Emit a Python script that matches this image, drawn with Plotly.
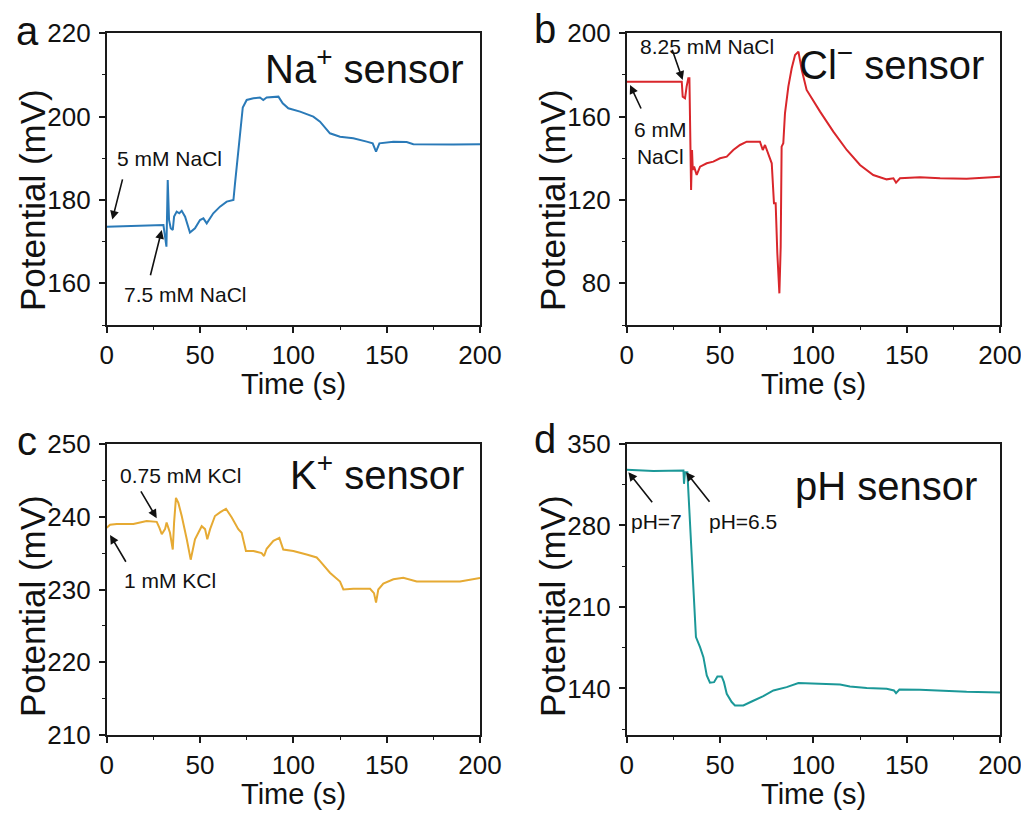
import plotly.graph_objects as go

# The page body has an 8 px margin, so the figure is drawn 8 px in from the corner.
OFF = 8
W, H = 1029 - OFF, 814 - OFF
FONT = "Liberation Sans, Arial, sans-serif"

# ---------------- data ----------------
na_t = [0, 14.3, 30.4, 31.25, 32.0, 32.7, 33.4, 34.3, 35.4, 36.1, 37.5, 38.9, 40.2, 42.0, 44.6,
        47.3, 50.0, 51.8, 53.6, 57.1, 60.7, 64.3, 67.9, 68.75, 70.0, 71.4, 72.9, 75.0, 78.6,
        82.1, 83.9, 85.7, 92.0, 94.3, 97.3, 103.6, 110.7, 114.3, 119.6, 125.0, 132.1, 139.3,
        142.5, 144.3, 146.1, 153.6, 160.7, 164.3, 175, 185.7, 200]
na_v = [173.6, 173.8, 174.0, 171.2, 168.8, 184.8, 175.2, 173.2, 172.8, 176.0, 177.2, 176.8, 177.4, 176.0, 172.2,
        173.2, 175.2, 175.6, 174.4, 176.8, 178.4, 179.6, 180.0, 184.0, 189.6, 196.8, 202.2, 204.0, 204.4,
        204.6, 204.0, 204.6, 204.8, 203.2, 202.0, 201.2, 200.0, 198.8, 196.0, 195.2, 194.8, 194.0,
        193.6, 191.6, 193.6, 194.0, 193.9, 193.4, 193.3, 193.3, 193.4]

cl_t = [0, 29.5, 30.0, 31.25, 32.1, 33.0, 33.6, 33.9, 34.5, 35.0, 35.4, 36.1, 37.5, 39.3, 42.9,
        46.4, 50.0, 53.6, 57.1, 60.7, 64.3, 71.4, 72.9, 74.1, 75.9, 77.7, 78.9, 79.8, 80.7, 81.8,
        82.5, 83.0, 83.9, 84.8, 86.6, 88.4, 90.2, 92.0, 93.8, 96.4, 103.6, 110.7, 117.9, 125.0,
        132.1, 139.3, 142.9, 144.3, 146.4, 157.1, 167.9, 182.1, 200]
cl_v = [176.8, 176.8, 169.6, 168.8, 174.4, 178.4, 178.4, 158.4, 124.8, 144.0, 134.4, 136.0, 132.0, 136.0, 137.6,
        138.4, 140.0, 140.8, 144.0, 146.4, 148.0, 148.0, 144.0, 146.4, 141.6, 137.6, 118.4, 118.4, 94.4, 75.2,
        97.6, 145.6, 147.2, 161.6, 174.4, 183.2, 189.6, 191.2, 182.4, 172.8, 162.4, 152.8, 144.0, 136.8,
        132.0, 129.9, 130.4, 128.3, 130.4, 130.9, 130.4, 130.2, 131.2]

k_t = [0, 1.8, 5.4, 14.3, 21.4, 26.8, 28.2, 29.5, 31.25, 32.1, 33.9, 35.4, 36.1, 37.1, 38.4,
       40.2, 42.9, 45.0, 47.3, 49.1, 50.9, 52.7, 53.9, 55.4, 58.0, 60.7, 63.9, 67.0, 70.5, 72.3,
       73.2, 74.6, 78.6, 83.0, 84.3, 85.7, 89.3, 92.5, 94.6, 100.0, 107.1, 112.5, 114.3, 119.6,
       125.0, 126.8, 132.1, 141.1, 143.2, 144.3, 145.5, 148.2, 153.6, 158.9, 166.1, 175, 182.1,
       189.3, 200]
k_v = [238.5, 238.9, 239.0, 239.0, 239.4, 239.3, 238.5, 237.6, 238.3, 239.2, 237.8, 235.5, 239.2, 242.6, 241.9,
       240.1, 236.9, 234.1, 236.9, 237.8, 238.7, 238.3, 236.9, 238.3, 240.1, 240.6, 241.1, 239.9, 238.3, 237.8,
       236.9, 235.3, 235.3, 235.0, 234.6, 235.6, 236.7, 237.1, 235.5, 235.3, 234.8, 234.4, 233.9, 232.3,
       231.1, 230.0, 230.1, 230.1, 229.5, 228.2, 230.0, 230.8, 231.4, 231.6, 231.1, 231.1, 231.0,
       231.1, 231.6]

ph_t = [0, 14.3, 30.4, 30.7, 31.25, 32.5, 33.2, 33.75, 34.3, 35.0, 36.1, 37.1, 39.3, 41.1, 42.9,
        44.6, 46.8, 48.6, 50.9, 52.1, 53.6, 56.25, 58.0, 62.5, 66.96, 73.2, 78.6, 85.7, 92.0,
        100.0, 108.9, 114.3, 119.6, 128.6, 139.3, 143.2, 144.3, 146.1, 157.1, 167.9, 182.1, 200]
ph_v = [327.8, 326.7, 327.2, 315.8, 325.8, 325.8, 304.3, 285.7, 275.7, 247.1, 212.7, 184.1, 175.5, 166.9, 151.2,
        144.9, 145.4, 150.3, 150.3, 145.4, 135.4, 128.3, 125.4, 125.4, 128.8, 133.4, 138.3, 141.1, 144.6,
        144.0, 143.4, 143.4, 141.7, 140.3, 139.7, 138.3, 136.0, 139.1, 138.9, 138.0, 137.1, 136.6]

x_ticks = [0, 50, 100, 150, 200]
panel_letters = ["a", "b", "c", "d"]
sensor_labels = ["Na<sup>+</sup> sensor", "Cl<sup>−</sup> sensor", "K<sup>+</sup> sensor", "pH sensor"]
x_title = "Time (s)"
y_title = "Potential (mV)"

# ---------------- figure ----------------
def px_x(x):
    return (x - OFF) / W

def px_y(y):
    return 1 - (y - OFF) / H

dom_left = [px_x(106.7), px_x(480)]
dom_right = [px_x(626.7), px_x(1000)]
dom_top = [px_y(325), px_y(33.3)]
dom_bot = [px_y(735), px_y(444)]

colors = ["#2a7ab8", "#d9262b", "#e6aa33", "#1b9898"]
series = [(na_t, na_v), (cl_t, cl_v), (k_t, k_v), (ph_t, ph_v)]
axes = [("x", "y"), ("x2", "y2"), ("x3", "y3"), ("x4", "y4")]

fig = go.Figure()
for (t, v), c, (xa, ya) in zip(series, colors, axes):
    fig.add_trace(go.Scatter(x=t, y=v, mode="lines", line=dict(color=c, width=2),
                             xaxis=xa, yaxis=ya, showlegend=False, hoverinfo="skip"))

LINE = "#1a1a1a"
common = dict(showline=True, mirror=True, linecolor=LINE, linewidth=1.6, ticks="outside",
              ticklen=6, tickwidth=1.6, tickcolor=LINE, showgrid=False, zeroline=False,
              tickfont=dict(family=FONT, size=26, color="#111"), automargin=False)

def xax(domain, anchor):
    return dict(domain=domain, anchor=anchor, range=[0, 200], tickvals=x_ticks,
                minor=dict(dtick=25, tick0=0, ticks="outside", ticklen=3, tickwidth=1.4, tickcolor=LINE),
                **common)

def yax(domain, anchor, rng, dtick, mdtick):
    return dict(domain=domain, anchor=anchor, range=rng, dtick=dtick, tick0=0,
                minor=dict(dtick=mdtick, tick0=0, ticks="outside", ticklen=3, tickwidth=1.4, tickcolor=LINE),
                ticklabelstandoff=3, **common)

fig.update_layout(
    width=W, height=H,
    margin=dict(l=0, r=0, t=0, b=0),
    paper_bgcolor="white", plot_bgcolor="white",
    font=dict(family=FONT, color="#111"),
    xaxis=xax(dom_left, "y"), yaxis=yax(dom_top, "x", [150, 220], 20, 10),
    xaxis2=xax(dom_right, "y2"), yaxis2=yax(dom_top, "x2", [60, 200], 40, 20),
    xaxis3=xax(dom_left, "y3"), yaxis3=yax(dom_bot, "x3", [210, 250], 10, 5),
    xaxis4=xax(dom_right, "y4"), yaxis4=yax(dom_bot, "x4", [100, 350], 70, 35),
)

ann = []
# panel letters
for lab, (x, y) in zip(panel_letters, [(27, 31), (545, 29), (27, 441), (545, 439)]):
    ann.append(dict(text=lab, x=px_x(x), y=px_y(y), xref="paper", yref="paper",
                    showarrow=False, font=dict(size=40, family=FONT, color="#111"),
                    xanchor="center", yanchor="middle"))
# sensor labels (right aligned)
for lab, (x, y) in zip(sensor_labels, [(466, 66), (986, 62), (466, 472), (979, 486)]):
    ann.append(dict(text=lab, x=px_x(x), y=px_y(y), xref="paper", yref="paper",
                    showarrow=False, font=dict(size=40, family=FONT, color="#111"),
                    xanchor="right", yanchor="middle"))
# axis titles
for cx in [293.4, 813.4]:
    for cy in [384, 794]:
        ann.append(dict(text=x_title, x=px_x(cx), y=px_y(cy), xref="paper", yref="paper",
                        showarrow=False, font=dict(size=29, family=FONT, color="#111"),
                        xanchor="center", yanchor="middle"))
for cx in [32, 552]:
    for cy in [200, 606]:
        ann.append(dict(text=y_title, x=px_x(cx), y=px_y(cy), xref="paper", yref="paper",
                        showarrow=False, textangle=-90, font=dict(size=35, family=FONT, color="#111"),
                        xanchor="center", yanchor="middle"))

# condition labels (text)
cond = [("5 mM NaCl", 169, 159, "center"), ("7.5 mM NaCl", 185, 294, "center"),
        ("8.25 mM NaCl", 707, 46, "center"), ("6 mM<br>NaCl", 660, 143, "center"),
        ("0.75 mM KCl", 180, 475, "center"), ("1 mM KCl", 170, 580, "center"),
        ("pH=7", 656, 521, "center"), ("pH=6.5", 743, 521, "center")]
for txt, x, y, al in cond:
    ann.append(dict(text=txt, x=px_x(x), y=px_y(y), xref="paper", yref="paper",
                    showarrow=False, align=al, font=dict(size=21, family=FONT, color="#111"),
                    xanchor="center", yanchor="middle"))

# arrows: head in data coords, tail offset in pixels
arrows = [("x", "y", 3.0, 175.3, 10.6, -41.7), ("x", "y", 29.5, 172.8, -11.7, 46.7),
          ("x2", "y2", 30.0, 177.6, -11.0, -31.7), ("x2", "y2", 1.8, 175.2, 11.7, 25.0),
          ("x3", "y3", 26.8, 239.8, -16.7, -28.3), ("x3", "y3", 1.8, 237.5, 16.7, 28.3),
          ("x4", "y4", 0.9, 325.8, 25.0, 31.7), ("x4", "y4", 31.8, 325.8, 24.7, 31.0)]
for xr, yr, x, y, ax, ay in arrows:
    ann.append(dict(text="", x=x, y=y, xref=xr, yref=yr, ax=ax, ay=ay, showarrow=True,
                    arrowhead=2, arrowsize=1.1, arrowwidth=1.6, arrowcolor="#111",
                    standoff=0, startstandoff=0))

fig.update_layout(annotations=ann)
fig.write_html("out.html")
